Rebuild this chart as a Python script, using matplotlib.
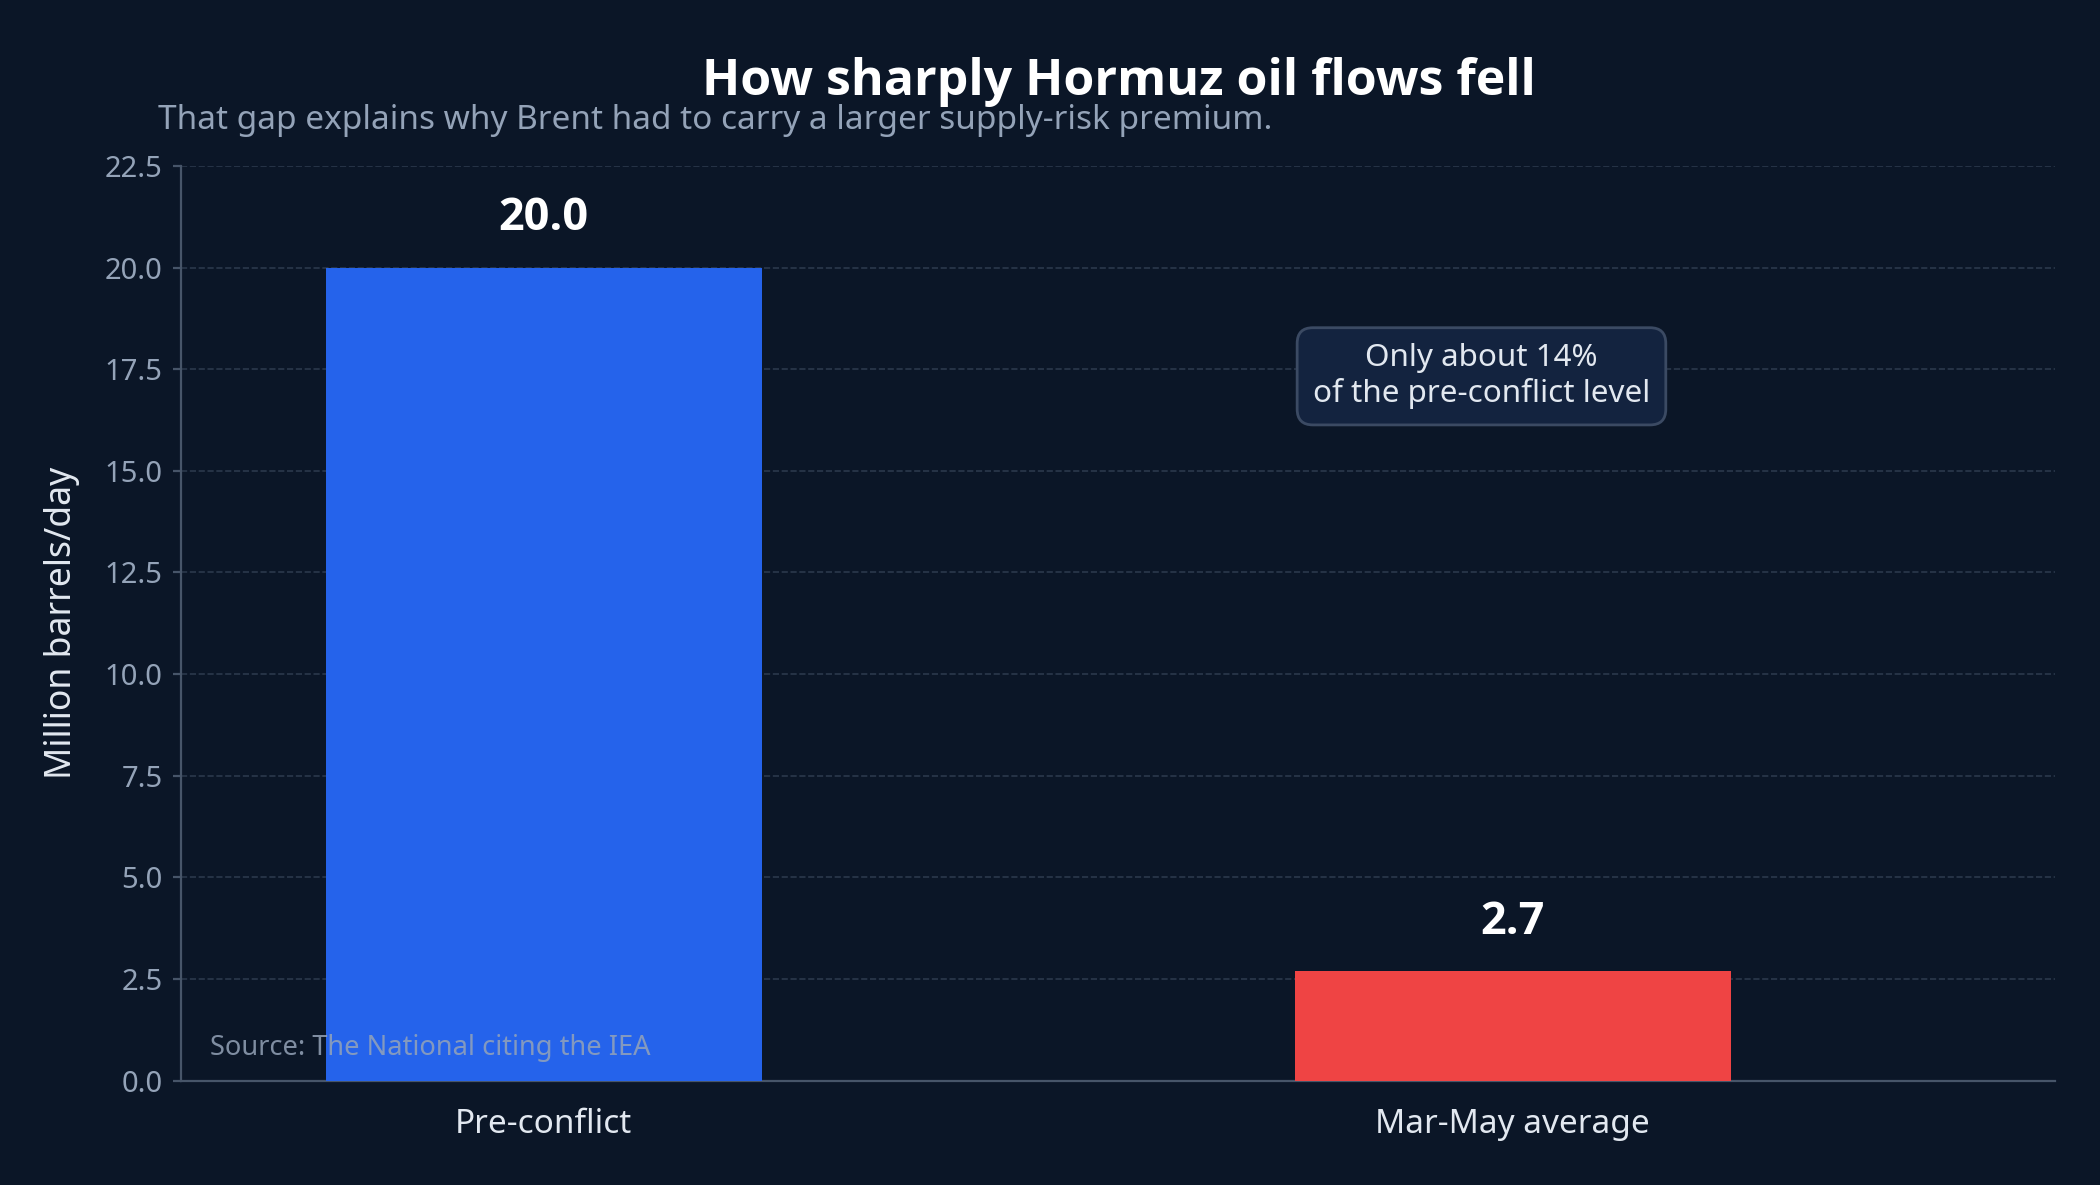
import matplotlib
matplotlib.use("Agg")
import matplotlib.pyplot as plt
import numpy as np

plt.rcParams['font.family'] = ['Noto Sans', 'DejaVu Sans']
BOLD = ['Open Sans', 'DejaVu Sans']  # Noto Sans has no bold face here

# data
categories = ["Pre-conflict", "Mar-May average"]
flows = [20.0, 2.7]
bar_colors = ["#2563eb", "#ef4444"]
title = "How sharply Hormuz oil flows fell"
subtitle = "That gap explains why Brent had to carry a larger supply-risk premium."
note = "Only about 14%\nof the pre-conflict level"
source = "Source: The National citing the IEA"
y_ticks = [0, 2.5, 5, 7.5, 10, 12.5, 15, 17.5, 20, 22.5]

bg = "#0b1627"

fig = plt.figure(figsize=(10.5, 5.925), dpi=200, facecolor=bg)
ax = fig.add_axes([0.086, 0.088, 0.8926, 0.772])
ax.set_facecolor(bg)

x = np.arange(len(categories))
ax.bar(x, flows, width=0.45, color=bar_colors, zorder=3)

for xi, v in zip(x, flows):
    ax.text(xi, v + 1.2, f"{v:.1f}", ha='center', va='center', family=BOLD,
            color='white', fontsize=16.2, fontweight='bold', zorder=5)

ax.set_xlim(-0.375, 1.56)
ax.set_ylim(0, 22.5)
ax.set_yticks(y_ticks)
ax.set_yticklabels([f"{t:.1f}" for t in y_ticks])
ax.set_xticks(x)
ax.set_xticklabels(categories)

ax.grid(axis='y', linestyle='--', color='#334155', linewidth=0.6, alpha=0.8, zorder=0)
ax.set_axisbelow(True)

for s in ['top', 'right']:
    ax.spines[s].set_visible(False)
for s in ['left', 'bottom']:
    ax.spines[s].set_color('#475569')
    ax.spines[s].set_linewidth(0.8)

ax.tick_params(axis='y', colors='#475569', labelcolor='#94a3b8', labelsize=10.5, length=3)
ax.tick_params(axis='x', length=0, labelcolor='#e2e8f0', labelsize=12, pad=10)

ax.set_ylabel("Million barrels/day", color='#e2e8f0', fontsize=12.8, labelpad=9)

ax.text(0.694, 0.77, note, transform=ax.transAxes, ha='center', va='center',
        color='#e2e8f0', fontsize=11.3, zorder=6,
        bbox=dict(boxstyle='round,pad=0.5,rounding_size=0.5', facecolor='#13233f',
                  edgecolor='#3b4a63', linewidth=1))

ax.text(0.0155, 0.020, source, transform=ax.transAxes, ha='left', va='bottom',
        color='#94a3b8', alpha=0.85, fontsize=9.8, zorder=6)

fig.text(0.533, 0.931, title, ha='center', va='center', color='white',
         fontsize=18, fontweight='bold', family=BOLD)
fig.text(0.075, 0.898, subtitle, ha='left', va='center', color='#94a3b8',
         fontsize=12)

fig.savefig("out.png", dpi=200, facecolor=bg)
